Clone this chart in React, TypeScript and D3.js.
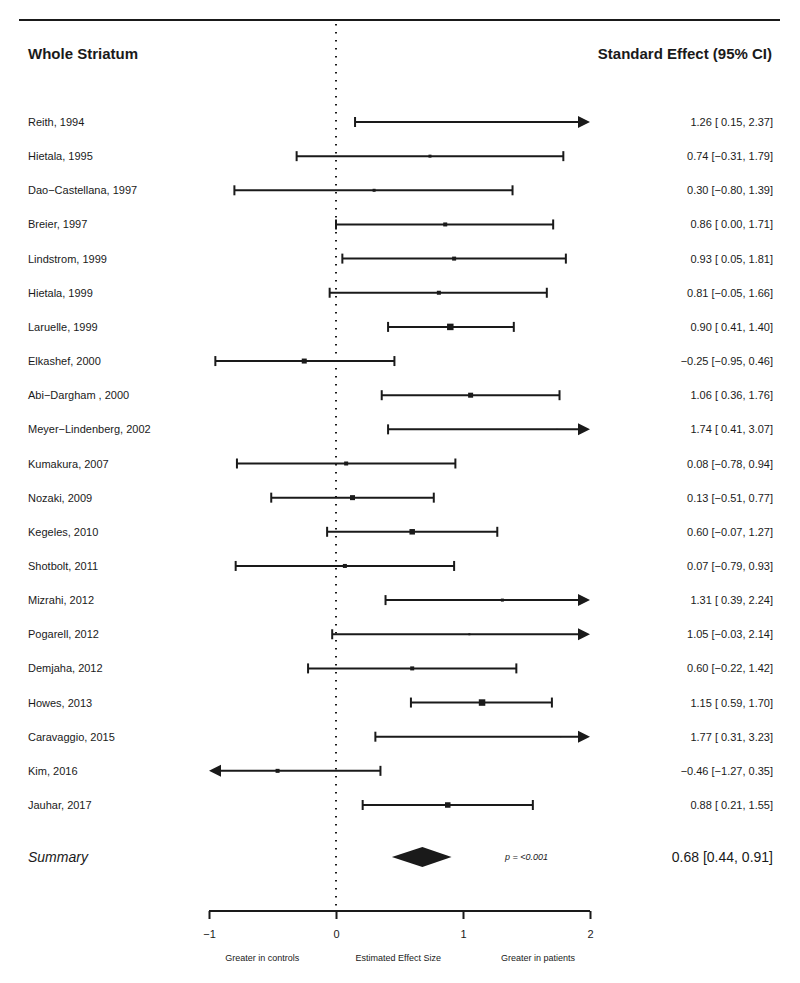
import { useRef, useEffect } from 'react';
import * as d3 from 'd3';

const studies = [
    'Reith, 1994', 'Hietala, 1995', 'Dao\u2212Castellana, 1997', 'Breier, 1997', 'Lindstrom, 1999',
    'Hietala, 1999', 'Laruelle, 1999', 'Elkashef, 2000', 'Abi\u2212Dargham , 2000', 'Meyer\u2212Lindenberg, 2002',
    'Kumakura, 2007', 'Nozaki, 2009', 'Kegeles, 2010', 'Shotbolt, 2011', 'Mizrahi, 2012',
    'Pogarell, 2012', 'Demjaha, 2012', 'Howes, 2013', 'Caravaggio, 2015', 'Kim, 2016', 'Jauhar, 2017',
];
const estimates = [1.26, 0.74, 0.30, 0.86, 0.93, 0.81, 0.90, -0.25, 1.06, 1.74, 0.08, 0.13, 0.60, 0.07, 1.31, 1.05, 0.60, 1.15, 1.77, -0.46, 0.88];
const lower = [0.15, -0.31, -0.80, 0.00, 0.05, -0.05, 0.41, -0.95, 0.36, 0.41, -0.78, -0.51, -0.07, -0.79, 0.39, -0.03, -0.22, 0.59, 0.31, -1.27, 0.21];
const upper = [2.37, 1.79, 1.39, 1.71, 1.81, 1.66, 1.40, 0.46, 1.76, 3.07, 0.94, 0.77, 1.27, 0.93, 2.24, 2.14, 1.42, 1.70, 3.23, 0.35, 1.55];
// relative study weights (square size)
const weights = [2, 3, 3, 4, 4, 4, 6.5, 5, 5, 1, 4, 5, 5.5, 4, 3, 2, 4, 6.5, 1, 4, 5.5];

const summary = { est: 0.68, lo: 0.44, hi: 0.91, p: 'p = <0.001' };
const xTicks = [-1, 0, 1, 2];
const bottomLabels = ['Greater in controls', 'Estimated Effect Size', 'Greater in patients'];
const bottomAt = [-0.58, 0.49, 1.59];

const fmt = (v: number) => v.toFixed(2).replace('-', '\u2212');
const pad = (v: number) => (v < 0 ? fmt(v) : ' ' + fmt(v));

export default function App() {
    const ref = useRef<SVGSVGElement>(null);

    useEffect(() => {
        if (!ref.current) return;
        const svg = d3.select(ref.current);
        svg.selectAll('*').remove();

        const font = '"Liberation Sans", Arial, sans-serif';
        const x = d3.scaleLinear().domain([-1, 2]).range([209, 590]);
        const y = d3.scaleLinear().domain([0, studies.length - 1]).range([122, 805]);
        const ySummary = 857;
        const yAxis = 911;

        // top rule
        svg.append('line')
            .attr('x1', 19).attr('x2', 780)
            .attr('y1', 20).attr('y2', 20)
            .attr('stroke', '#1a1a1a').attr('stroke-width', 2);

        // headers
        svg.append('text').attr('x', 28).attr('y', 59)
            .attr('font-family', font).attr('font-size', 15).attr('font-weight', 'bold')
            .attr('fill', '#1a1a1a').text('Whole Striatum');
        svg.append('text').attr('x', 772).attr('y', 59).attr('text-anchor', 'end')
            .attr('font-family', font).attr('font-size', 15).attr('font-weight', 'bold')
            .attr('fill', '#1a1a1a').text('Standard Effect (95% CI)');

        // null line
        svg.append('line')
            .attr('x1', x(0)).attr('x2', x(0))
            .attr('y1', 24).attr('y2', yAxis - 4)
            .attr('stroke', '#1a1a1a').attr('stroke-width', 2)
            .attr('stroke-dasharray', '1.6 6.4');

        const g = svg.append('g').attr('stroke', '#1a1a1a').attr('fill', '#1a1a1a');

        studies.forEach((name, i) => {
            const yy = y(i);
            const lo = Math.max(lower[i], -1);
            const hi = Math.min(upper[i], 2);
            const clipLo = lower[i] < -1;
            const clipHi = upper[i] > 2;

            // labels
            svg.append('text').attr('x', 28).attr('y', yy + 4)
                .attr('font-family', font).attr('font-size', 11).attr('fill', '#1a1a1a').text(name);
            svg.append('text').attr('x', 773).attr('y', yy + 4).attr('text-anchor', 'end')
                .attr('font-family', font).attr('font-size', 11).attr('fill', '#1a1a1a')
                .style('white-space', 'pre')
                .text(`${fmt(estimates[i])} [${pad(lower[i])}, ${fmt(upper[i])}]`);

            // CI line
            g.append('line')
                .attr('x1', x(lo) + (clipLo ? 8 : 0)).attr('x2', x(hi) - (clipHi ? 8 : 0))
                .attr('y1', yy).attr('y2', yy).attr('stroke-width', 2);

            if (clipLo) {
                g.append('path').attr('stroke', 'none')
                    .attr('d', `M${x(lo)},${yy} l12,-6 l0,12 z`);
            } else {
                g.append('line').attr('x1', x(lo)).attr('x2', x(lo))
                    .attr('y1', yy - 5).attr('y2', yy + 5).attr('stroke-width', 2);
            }
            if (clipHi) {
                g.append('path').attr('stroke', 'none')
                    .attr('d', `M${x(hi)},${yy} l-12,-6 l0,12 z`);
            } else {
                g.append('line').attr('x1', x(hi)).attr('x2', x(hi))
                    .attr('y1', yy - 5).attr('y2', yy + 5).attr('stroke-width', 2);
            }

            const s = weights[i];
            g.append('rect').attr('stroke', 'none')
                .attr('x', x(estimates[i]) - s / 2).attr('y', yy - s / 2)
                .attr('width', s).attr('height', s);
        });

        // summary
        svg.append('text').attr('x', 28).attr('y', ySummary + 5)
            .attr('font-family', font).attr('font-size', 14).attr('font-style', 'italic')
            .attr('fill', '#1a1a1a').text('Summary');
        g.append('path').attr('stroke', 'none')
            .attr('d', `M${x(summary.lo)},${ySummary} L${x(summary.est)},${ySummary - 10} L${x(summary.hi)},${ySummary} L${x(summary.est)},${ySummary + 10} Z`);
        svg.append('text').attr('x', 505).attr('y', ySummary + 3)
            .attr('font-family', font).attr('font-size', 9).attr('font-style', 'italic')
            .attr('fill', '#1a1a1a').text(summary.p);
        svg.append('text').attr('x', 773).attr('y', ySummary + 5).attr('text-anchor', 'end')
            .attr('font-family', font).attr('font-size', 14).attr('fill', '#1a1a1a')
            .text(`${fmt(summary.est)} [${fmt(summary.lo)}, ${fmt(summary.hi)}]`);

        // axis
        const axis = svg.append('g')
            .attr('transform', `translate(0,${yAxis})`)
            .call(d3.axisBottom(x).tickValues(xTicks).tickSizeOuter(0).tickSizeInner(8).tickPadding(11)
                .tickFormat(d => (d as number).toString().replace('-', '\u2212')));
        axis.select('.domain').attr('stroke', '#1a1a1a').attr('stroke-width', 2)
            .attr('d', `M${x(-1)},0H${x(2)}`);
        axis.selectAll('.tick line').attr('stroke', '#1a1a1a').attr('stroke-width', 2);
        axis.selectAll('.tick text').attr('font-family', font).attr('font-size', 11).attr('fill', '#1a1a1a');

        bottomLabels.forEach((t, i) => {
            svg.append('text').attr('x', x(bottomAt[i])).attr('y', 961).attr('text-anchor', 'middle')
                .attr('font-family', font).attr('font-size', 9).attr('fill', '#1a1a1a').text(t);
        });
    }, []);

    return <svg ref={ref} width={800} height={983} style={{ position: 'absolute', left: 0, top: 0, background: 'white' }} />;
}
